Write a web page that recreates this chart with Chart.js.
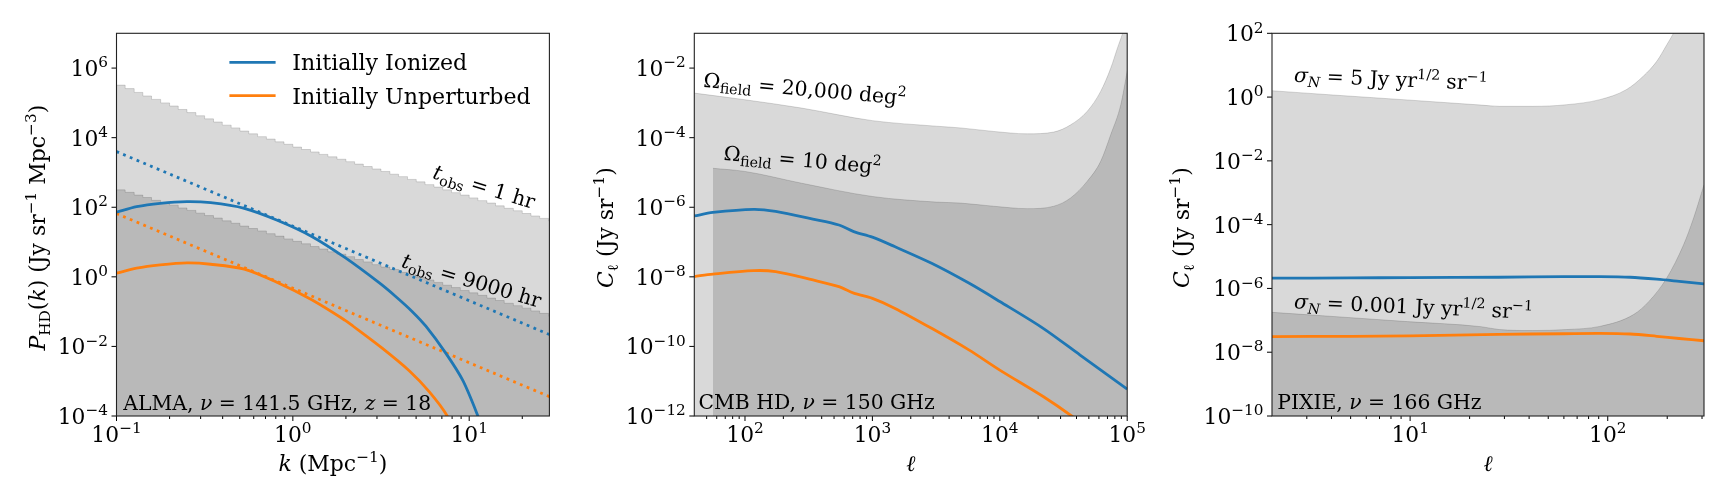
<!DOCTYPE html>
<html>
<head>
<meta charset="utf-8">
<script src="https://cdn.jsdelivr.net/npm/chart.js@4.4.1/dist/chart.umd.min.js"></script>
<style>
  html, body { margin: 0; padding: 0; background: #fff; width: 1728px; height: 504px; overflow: hidden; }
  .pane { position: absolute; top: 0; width: 576px; height: 504px; }
</style>
</head>
<body>
<div class="pane" style="left:0"><canvas id="c1" width="576" height="504"></canvas></div>
<div class="pane" style="left:576px"><canvas id="c2" width="576" height="504"></canvas></div>
<div class="pane" style="left:1152px"><canvas id="c3" width="576" height="504"></canvas></div>
<script>
/* ── ALMA panel: P_HD(k) ── */
const almaBinK = [0.1, 0.112, 0.126, 0.141, 0.158, 0.178, 0.2, 0.224, 0.251, 0.282, 0.316, 0.355, 0.398, 0.447, 0.501,
  0.562, 0.631, 0.708, 0.794, 0.891, 1, 1.12, 1.26, 1.41, 1.58, 1.78, 2, 2.24, 2.51, 2.82, 3.16, 3.55, 3.98, 4.47, 5.01,
  5.62, 6.31, 7.08, 7.94, 8.91, 10, 11.2, 12.6, 14.1, 15.8, 17.8, 20, 22.4, 25.1, 28.2, 28.5];
const almaNoise1hr = [3.24e5, 2.57e5, 2.0e5, 1.58e5, 1.26e5, 1.0e5, 8.13e4, 6.46e4, 5.25e4, 4.27e4, 3.47e4, 2.82e4, 2.29e4,
  1.91e4, 1.55e4, 1.29e4, 1.07e4, 9120, 7590, 6460, 5370, 4570, 3890, 3310, 2820, 2400, 2040, 1740, 1480, 1260, 1070, 891,
  759, 631, 537, 447, 380, 316, 263, 224, 186, 155, 132, 110, 93.3, 79.4, 66.1, 56.2, 47.9, 40.7, 40.7];
const almaNoise9000hr = [316, 269, 224, 191, 158, 135, 115, 95.5, 81.3, 67.6, 57.5, 49.0, 40.7, 34.7, 28.8, 24.5, 20.9, 17.4,
  14.8, 12.3, 10.5, 8.91, 7.41, 6.31, 5.25, 4.47, 3.80, 3.16, 2.69, 2.24, 1.91, 1.62, 1.35, 1.15, 0.955, 0.813, 0.692, 0.575,
  0.490, 0.407, 0.347, 0.295, 0.245, 0.209, 0.174, 0.148, 0.126, 0.105, 0.0891, 0.0741, 0.0741];
const almaIonK = [0.1, 0.13, 0.177, 0.251, 0.342, 0.53, 0.822, 1.28, 1.98, 3.07, 3.8, 4.76, 5.68, 7.38, 9.2, 11.2, 12.3];
const almaIonP = [71.8, 104, 130, 145, 135, 93.3, 41.7, 14.5, 3.55, 0.69, 0.282, 0.1, 0.038, 0.0063, 0.00105, 1e-4, 2.5e-5];
const almaUnpK = [0.1, 0.13, 0.177, 0.251, 0.342, 0.53, 0.822, 1.28, 1.98, 2.2, 3.21, 4.57, 5.93, 7.5, 8.2];
const almaUnpP = [1.27, 1.77, 2.20, 2.51, 2.30, 1.66, 0.676, 0.219, 0.0562, 0.038, 0.00891, 0.002, 5.01e-4, 1e-4, 2.5e-5];
const almaDotK = [0.1, 28.5];
const almaIonDot = [3980, 0.0219];
const almaUnpDot = [66, 3.6e-4];

/* ── CMB-HD panel: C_ell ── */
const hdBandWideL = [40, 100, 279, 1000, 3162, 4900, 8950, 16400, 26500, 36000, 48600, 61900, 74300, 83900, 91800, 100000];
const hdBandWideC = [1.91e-3, 1.23e-3, 7.08e-4, 3.09e-4, 2.14e-4, 1.91e-4, 1.51e-4, 1.29e-4, 1.45e-4, 2.34e-4, 5.75e-4,
  2.14e-3, 1e-2, 3.8e-2, 9.77e-2, 0.316];
const hdBandDeepL = [56, 100, 279, 1000, 3162, 4900, 8950, 16400, 26500, 36000, 48600, 61900, 74300, 89100, 100000];
const hdBandDeepC = [1.32e-5, 1.07e-5, 4.9e-6, 2.04e-6, 1.41e-6, 1.32e-6, 1.07e-6, 9.12e-7, 1.07e-6, 1.86e-6, 5.62e-6,
  2.09e-5, 1.23e-4, 8.91e-4, 8.13e-3];
const hdL = [40, 56, 117, 174, 341, 546, 713, 1000, 1493, 2917, 5715, 10000, 21900, 42700, 100000];
const hdIon = [5.62e-7, 7.08e-7, 8.71e-7, 7.59e-7, 4.57e-7, 3.09e-7, 2.0e-7, 1.38e-7, 7.41e-8, 2.45e-8, 6.61e-9, 1.95e-9,
  3.31e-10, 5.62e-11, 5.89e-12];
const hdUnpL = [40, 56, 117, 174, 341, 546, 713, 1000, 1493, 2917, 5715, 10000, 21900, 36600, 50100];
const hdUnp = [1.02e-8, 1.2e-8, 1.51e-8, 1.41e-8, 8.13e-9, 5.25e-9, 3.39e-9, 2.4e-9, 1.26e-9, 3.31e-10, 7.94e-11, 2.09e-11,
  3.63e-12, 1e-12, 4e-13];

/* ── PIXIE panel: C_ell ── */
const pxBandL = [2, 4.08, 9.66, 22.9, 28.3, 41.8, 61.7, 91.2, 124, 151, 177, 199, 215, 240, 270, 307];
const pxBandWideC = [1.58, 1.16, 0.813, 0.562, 0.513, 0.513, 0.575, 0.832, 1.70, 4.47, 13.2, 43.7, 100, 398, 2000, 1e4];
const pxBandDeepL = [2, 4.08, 9.66, 22.9, 28.3, 41.8, 61.7, 91.2, 135, 162, 199, 242, 272, 307];
const pxBandDeepC = [1.78e-7, 1.32e-7, 9.12e-8, 6.31e-8, 5.13e-8, 4.79e-8, 5.13e-8, 6.46e-8, 1.51e-7, 3.98e-7, 2.14e-6,
  2.34e-5, 1.62e-4, 1.78e-3];
const pxL = [2, 5, 10, 28, 60, 91, 130, 177, 230, 307];
const pxIon = [2.09e-6, 2.14e-6, 2.19e-6, 2.24e-6, 2.34e-6, 2.34e-6, 2.24e-6, 1.95e-6, 1.66e-6, 1.38e-6];
const pxUnp = [3.09e-8, 3.16e-8, 3.24e-8, 3.63e-8, 3.8e-8, 3.89e-8, 3.72e-8, 3.16e-8, 2.69e-8, 2.29e-8];

/* ── ticks ── */
const almaXTicks = [0.1, 1, 10], almaXTickExp = ['−1', '0', '1'];
const almaXMinor = [0.2, 0.3, 0.4, 0.5, 0.6, 0.7, 0.8, 0.9, 2, 3, 4, 5, 6, 7, 8, 9, 20];
const almaYTicks = [1e-4, 1e-2, 1, 1e2, 1e4, 1e6], almaYTickExp = ['−4', '−2', '0', '2', '4', '6'];
const hdXTicks = [1e2, 1e3, 1e4, 1e5], hdXTickExp = ['2', '3', '4', '5'];
const hdXMinor = [50, 60, 70, 80, 90, 200, 300, 400, 500, 600, 700, 800, 900, 2000, 3000, 4000, 5000, 6000, 7000, 8000, 9000,
  20000, 30000, 40000, 50000, 60000, 70000, 80000, 90000];
const hdYTicks = [1e-12, 1e-10, 1e-8, 1e-6, 1e-4, 1e-2], hdYTickExp = ['−12', '−10', '−8', '−6', '−4', '−2'];
const pxXTicks = [10, 100], pxXTickExp = ['1', '2'];
const pxXMinor = [3, 4, 5, 6, 7, 8, 9, 20, 30, 40, 50, 60, 70, 80, 90, 200, 300];
const pxYTicks = [1e-10, 1e-8, 1e-6, 1e-4, 1e-2, 1, 1e2], pxYTickExp = ['−10', '−8', '−6', '−4', '−2', '0', '2'];

const BLUE = '#1f77b4', ORANGE = '#ff7f0e';
const FONT = '"DejaVu Serif", serif';

const ALMA_TITLE_Y = [['P', 'i'], ['HD', 's'], ['('], ['k', 'i'], [') (Jy sr'], ['−1', 'S'], [' Mpc'], ['−3', 'S'], [')']];
const ALMA_NOTE = [['ALMA, '], ['ν', 'i'], [' = 141.5 GHz, '], ['z', 'i'], [' = 18']];
const CL_TITLE = [['C', 'i'], ['ℓ', 's'], [' (Jy sr'], ['−1', 'S'], [')']];

const pts = (xs, ys) => xs.map((x, i) => ({ x, y: ys[i] }));

/* [text, style]: i = italic, s = subscript, S = superscript */
function segs(parts, size) {
  return parts.map(([t, st = '']) => {
    const small = st.includes('s') || st.includes('S');
    const sz = small ? size * 0.7 : size;
    const dy = st.includes('S') ? -size * 0.4 : st.includes('s') ? size * 0.22 : 0;
    return { t, font: (st.includes('i') ? 'italic ' : '') + sz.toFixed(2) + 'px ' + FONT, dy };
  });
}
function richW(ctx, parts, size) {
  let w = 0;
  segs(parts, size).forEach(s => { ctx.font = s.font; w += ctx.measureText(s.t).width; });
  return w;
}
function drawRich(ctx, parts, x, y, size, align, rot, mid) {
  ctx.save();
  ctx.translate(x, y);
  ctx.rotate((rot || 0) * Math.PI / 180);
  const w = richW(ctx, parts, size);
  let cx = align === 'center' ? -w / 2 : align === 'right' ? -w : 0;
  const base = mid ? size * 0.36 : 0;
  ctx.textAlign = 'left'; ctx.textBaseline = 'alphabetic'; ctx.fillStyle = '#000';
  segs(parts, size).forEach(s => {
    ctx.font = s.font; ctx.fillText(s.t, cx, base + s.dy);
    cx += ctx.measureText(s.t).width;
  });
  ctx.restore();
}

/* font sizes matched to the widths the labels take up in the figure */
let SZ = null;
function sizes(ctx) {
  if (SZ) return SZ;
  const fit = (parts, w) => 20 * w / richW(ctx, parts, 20);
  SZ = {
    tick: fit([['10'], ['−12', 'S']], 60),
    axis: fit(ALMA_TITLE_Y, 246),
    text: fit(ALMA_NOTE, 308),
    legend: fit([['Initially Ionized']], 175)
  };
  return SZ;
}

function axesPlugin(cfg) {
  return {
    id: 'axes_' + cfg.name,
    afterDraw(chart) {
      const { ctx, chartArea: a, scales: { x, y } } = chart;
      const sz = sizes(ctx);
      ctx.save();
      ctx.strokeStyle = '#000'; ctx.lineWidth = 1;
      ctx.beginPath();
      cfg.xMajor.forEach(v => { const p = x.getPixelForValue(v); ctx.moveTo(p, a.bottom); ctx.lineTo(p, a.bottom + 5); });
      cfg.xMinor.forEach(v => { const p = x.getPixelForValue(v); ctx.moveTo(p, a.bottom); ctx.lineTo(p, a.bottom + 3); });
      cfg.yMajor.forEach(v => { const p = y.getPixelForValue(v); ctx.moveTo(a.left, p); ctx.lineTo(a.left - 5, p); });
      ctx.stroke();
      ctx.strokeStyle = '#222'; ctx.lineWidth = 1.1;
      ctx.strokeRect(a.left, a.top, a.right - a.left, a.bottom - a.top);
      cfg.xMajor.forEach((v, i) => drawRich(ctx, [['10'], [cfg.xExp[i], 'S']], x.getPixelForValue(v), a.bottom + 25.5, sz.tick, 'center'));
      cfg.yMajor.forEach((v, i) => drawRich(ctx, [['10'], [cfg.yExp[i], 'S']], a.left - 8.5, y.getPixelForValue(v) + sz.tick * 0.365, sz.tick, 'right'));
      drawRich(ctx, cfg.xTitle, (a.left + a.right) / 2, 471, sz.axis, 'center');
      drawRich(ctx, cfg.yTitle, cfg.yTitleX, (a.top + a.bottom) / 2 + 3, sz.axis, 'center', -90, true);
      cfg.texts.forEach(t => drawRich(ctx, t.parts, t.x, t.y, sz.text, 'left', t.rot || 0));
      (cfg.legend || []).forEach(l => {
        ctx.strokeStyle = l.color; ctx.lineWidth = 2.8; ctx.setLineDash([]);
        ctx.beginPath(); ctx.moveTo(229.4, l.y); ctx.lineTo(275.6, l.y); ctx.stroke();
        drawRich(ctx, [[l.label]], 292.3, l.y, sz.legend, 'left', 0, true);
      });
      ctx.restore();
    }
  };
}

const band = (data, extra) => Object.assign({ data, fill: 'start', backgroundColor: 'rgba(0,0,0,0.15)',
  borderColor: 'rgba(0,0,0,0.15)', borderWidth: 1, pointRadius: 0, cubicInterpolationMode: 'monotone', clip: 0 }, extra);
const curve = (data, color, dash) => ({ data, fill: false, borderColor: color, borderWidth: 2.8, borderDash: dash || [],
  borderCapStyle: 'butt', pointRadius: 0, tension: 0.3, clip: 0 });

function makeChart(id, pad, xr, yr, datasets, cfg) {
  return new Chart(document.getElementById(id), {
    type: 'line',
    data: { datasets },
    options: {
      responsive: false, animation: false, devicePixelRatio: 1,
      layout: { padding: pad },
      plugins: { legend: { display: false }, tooltip: { enabled: false } },
      scales: {
        x: { type: 'logarithmic', min: xr[0], max: xr[1], display: false },
        y: { type: 'logarithmic', min: yr[0], max: yr[1], display: false }
      }
    },
    plugins: [axesPlugin(cfg)]
  });
}

makeChart('c1', { left: 116.5, right: 26.6, top: 33.3, bottom: 88 }, [0.1, 28.5], [1e-4, 1e7], [
  curve(pts(almaIonK, almaIonP), BLUE),
  curve(pts(almaUnpK, almaUnpP), ORANGE),
  curve(pts(almaDotK, almaIonDot), BLUE, [2.8, 4.5]),
  curve(pts(almaDotK, almaUnpDot), ORANGE, [2.8, 4.5]),
  band(pts(almaBinK, almaNoise1hr), { stepped: 'before' }),
  band(pts(almaBinK, almaNoise9000hr), { stepped: 'before' })
], {
  name: 'alma', xMajor: almaXTicks, xExp: almaXTickExp, xMinor: almaXMinor, yMajor: almaYTicks, yExp: almaYTickExp,
  xTitle: [['k', 'i'], [' (Mpc'], ['−1', 'S'], [')']],
  yTitle: ALMA_TITLE_Y, yTitleX: 37,
  texts: [
    { parts: ALMA_NOTE, x: 123.3, y: 410 },
    { parts: [['t', 'i'], ['obs', 's'], [' = 1 hr']], x: 431.7, y: 178, rot: 17 },
    { parts: [['t', 'i'], ['obs', 's'], [' = 9000 hr']], x: 400.5, y: 266.7, rot: 16.5 }
  ],
  legend: [{ label: 'Initially Ionized', color: BLUE, y: 62.3 }, { label: 'Initially Unperturbed', color: ORANGE, y: 95.7 }]
});

makeChart('c2', { left: 118.3, right: 24.8, top: 33.3, bottom: 88 }, [40, 1e5], [1e-12, 1e-1], [
  curve(pts(hdL, hdIon), BLUE),
  curve(pts(hdUnpL, hdUnp), ORANGE),
  band(pts(hdBandWideL, hdBandWideC)),
  band(pts(hdBandDeepL, hdBandDeepC))
], {
  name: 'hd', xMajor: hdXTicks, xExp: hdXTickExp, xMinor: hdXMinor, yMajor: hdYTicks, yExp: hdYTickExp,
  xTitle: [['ℓ', 'i']], yTitle: CL_TITLE, yTitleX: 29,
  texts: [
    { parts: [['Ω'], ['field', 's'], [' = 20,000 deg'], ['2', 'S']], x: 127, y: 87, rot: 5 },
    { parts: [['Ω'], ['field', 's'], [' = 10 deg'], ['2', 'S']], x: 147.3, y: 160, rot: 5 },
    { parts: [['CMB HD, '], ['ν', 'i'], [' = 150 GHz']], x: 122.4, y: 409 }
  ]
});

makeChart('c3', { left: 120, right: 24, top: 33.3, bottom: 88 }, [2, 307], [1e-10, 1e2], [
  curve(pts(pxL, pxIon), BLUE),
  curve(pts(pxL, pxUnp), ORANGE),
  band(pts(pxBandL, pxBandWideC)),
  band(pts(pxBandDeepL, pxBandDeepC))
], {
  name: 'pixie', xMajor: pxXTicks, xExp: pxXTickExp, xMinor: pxXMinor, yMajor: pxYTicks, yExp: pxYTickExp,
  xTitle: [['ℓ', 'i']], yTitle: CL_TITLE, yTitleX: 29.3,
  texts: [
    { parts: [['σ', 'i'], ['N', 'is'], [' = 5 Jy yr'], ['1/2', 'S'], [' sr'], ['−1', 'S']], x: 141.8, y: 81.7, rot: 2.5 },
    { parts: [['σ', 'i'], ['N', 'is'], [' = 0.001 Jy yr'], ['1/2', 'S'], [' sr'], ['−1', 'S']], x: 141.8, y: 308.3, rot: 2.5 },
    { parts: [['PIXIE, '], ['ν', 'i'], [' = 166 GHz']], x: 125.2, y: 409 }
  ]
});
</script>
</body>
</html>
